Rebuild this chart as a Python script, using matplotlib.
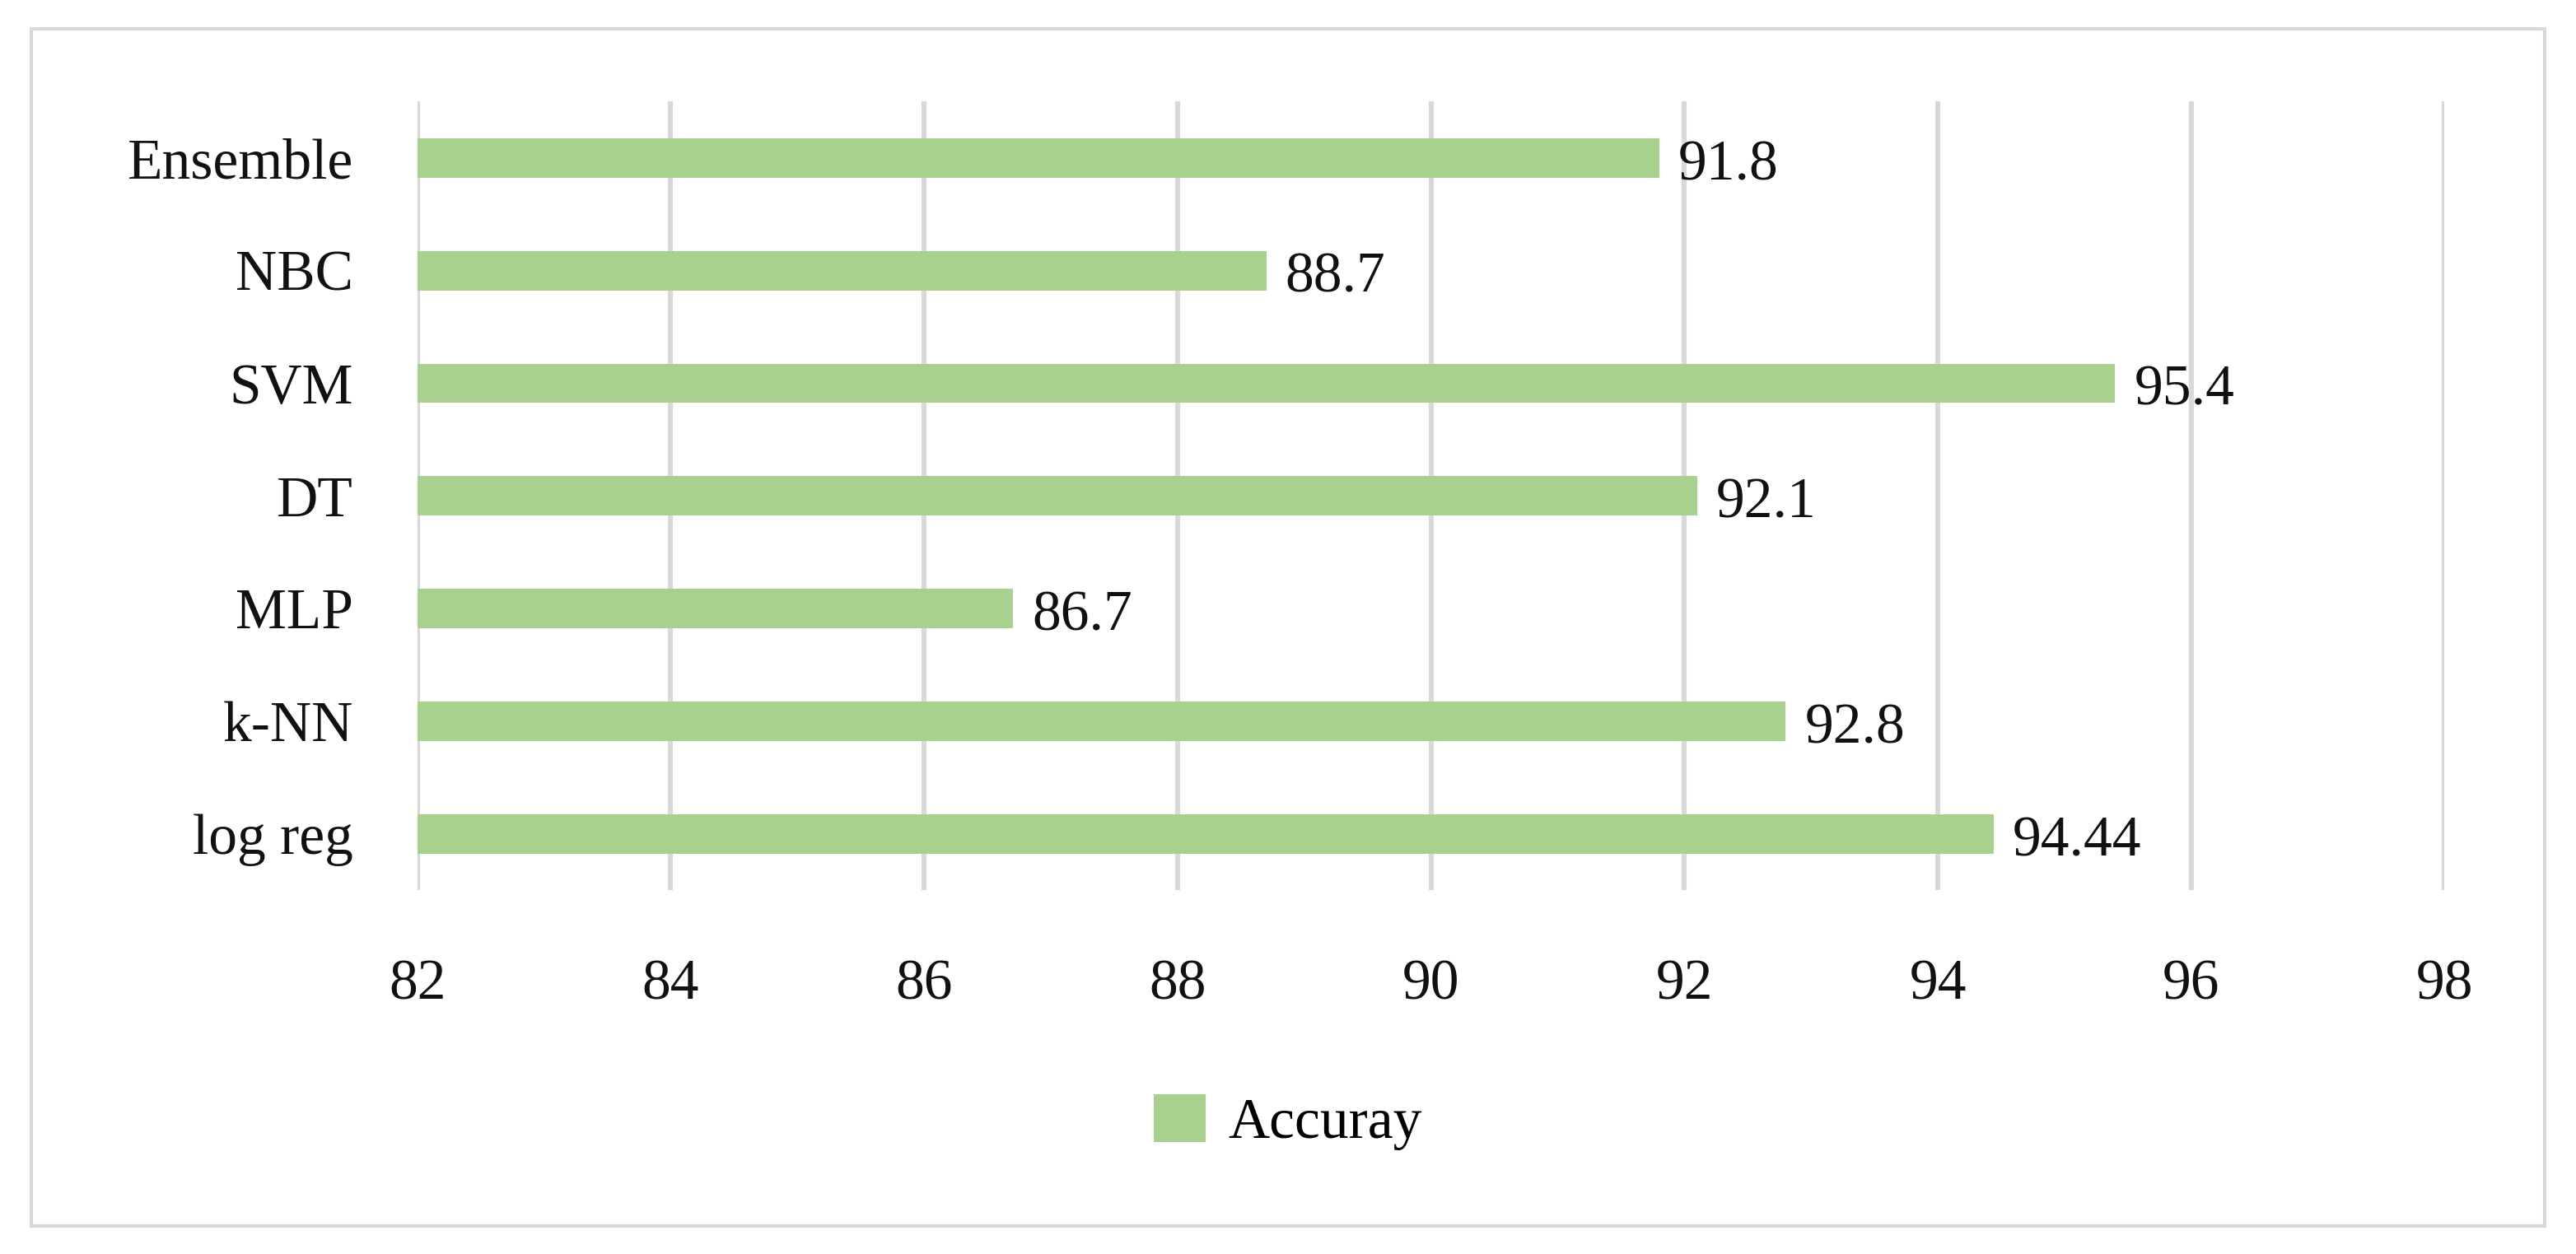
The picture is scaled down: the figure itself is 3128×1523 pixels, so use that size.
import matplotlib
matplotlib.use("Agg")
import matplotlib.pyplot as plt
from matplotlib.patches import Rectangle

models = ["log reg", "k-NN", "MLP", "DT", "SVM", "NBC", "Ensemble"]
accuracy = [94.44, 92.8, 86.7, 92.1, 95.4, 88.7, 91.8]
labels = ["94.44", "92.8", "86.7", "92.1", "95.4", "88.7", "91.8"]
xticks = [82, 84, 86, 88, 90, 92, 94, 96, 98]

plt.rcParams['font.family'] = ['Liberation Serif', 'DejaVu Serif']
green = "#A9D18E"

fig = plt.figure(figsize=(15.64, 7.615), dpi=200)
ax = fig.add_axes([0.162, 0.29, 0.787, 0.629])

bars = ax.barh(range(len(models)), [a - 82 for a in accuracy], left=82,
               height=0.35, color=green, label="Accuray", zorder=3)
for i, (v, t) in enumerate(zip(accuracy, labels)):
    ax.text(v + 0.15, i - 0.07, t, va="center", ha="left", fontsize=25,
            color="#111111")

ax.set_xlim(82, 98)
ax.set_ylim(-0.5, 6.5)
ax.set_xticks(xticks)
ax.set_yticks(range(len(models)))
ax.set_yticklabels(models)
ax.tick_params(axis="both", length=0, labelsize=25, colors="#111111")
ax.tick_params(axis="x", pad=30)
ax.tick_params(axis="y", pad=28)
ax.grid(axis="x", color="#D9D9D9", linewidth=2.2, zorder=0)
for s in ax.spines.values():
    s.set_visible(False)

fig.legend(handles=[bars], labels=["Accuray"], loc="center",
           bbox_to_anchor=(0.5, 0.105), frameon=False, fontsize=25,
           handlelength=0.9, handleheight=0.9, handletextpad=0.4)

fig.patches.append(Rectangle((0.012, 0.022), 0.976, 0.955,
                             transform=fig.transFigure, fill=False,
                             edgecolor="#D9D9D9", linewidth=1.5))

fig.savefig("out.png", dpi=200)
